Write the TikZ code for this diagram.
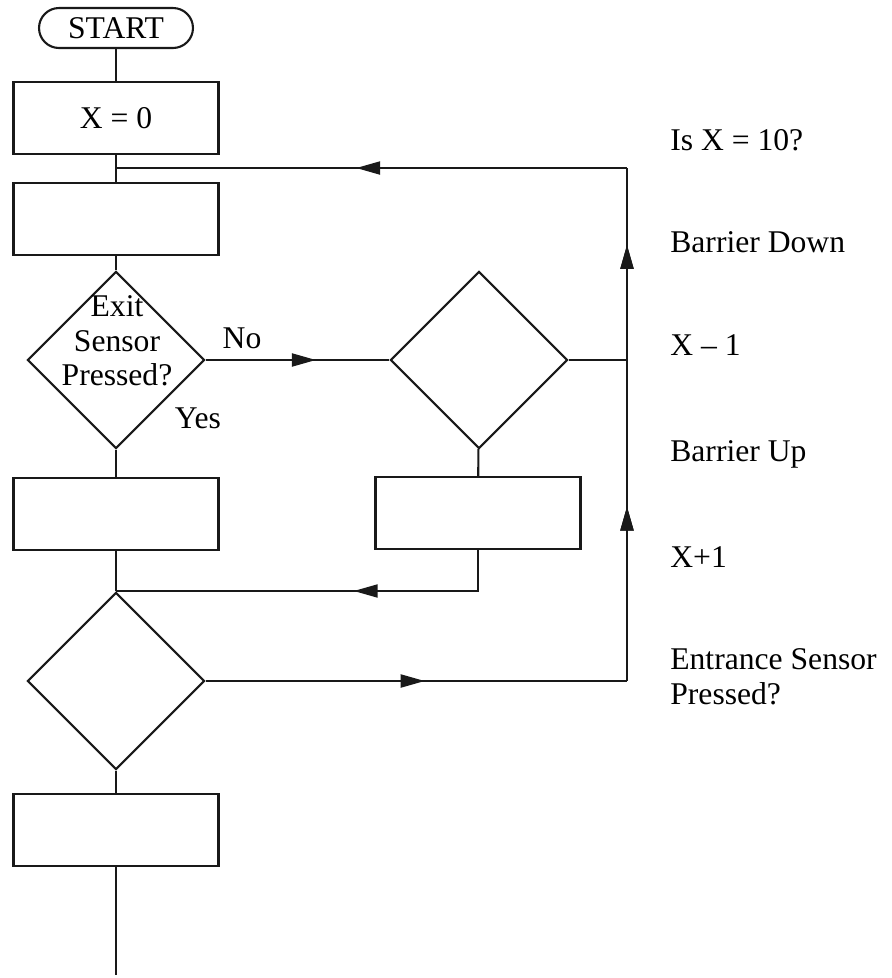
\documentclass[tikz,border=0pt]{standalone}
\usepackage{fontspec}
\setmainfont{Liberation Serif}
\usetikzlibrary{shapes.geometric, arrows.meta, positioning, decorations.markings}

\begin{document}
\begin{tikzpicture}[
        x=0.02cm, y=-0.02cm,
        font=\fontsize{18}{19.5}\selectfont,
        termBlock/.style={
            rectangle, rounded corners=0.4cm, draw=black!90, line width=1.2pt,
            minimum width=3.08cm, minimum height=0.8cm, inner sep=0pt
        },
        procBlock/.style={
            rectangle, draw=black!90, line width=1.2pt,
            minimum width=4.1cm, minimum height=1.44cm, inner sep=0pt
        },
        decBlock/.style={
            diamond, aspect=1, draw=black!90, line width=1.2pt,
            minimum size=3.54cm, inner sep=0pt
        },
        line/.style={draw=black!90, line width=1.2pt},
        midarrow/.style={
            postaction={decorate},
            decoration={markings,
                mark=at position #1 with {\arrow{Triangle[length=4.8mm, width=2.6mm]}}}
        },
        sideText/.style={anchor=base west, inner sep=0pt}
    ]
        \useasboundingbox (0,0) rectangle (892,978);

        % Nodes
        \node (start) [termBlock] at (116,28) {START};
        \node (setX) [procBlock] at (116,118) {X = 0};
        \node (box2) [procBlock] at (116,219) {};
        \node (exitDec) [decBlock] at (116,360) {};
        \node (exitTxt) [align=center, inner sep=0pt] at (117,341) {Exit\\Sensor\\Pressed?};
        \node (entDec) [decBlock] at (479,360) {};
        \node (box3) [procBlock] at (116,514) {};
        \node (box4) [procBlock] at (478,513) {};
        \node (cntDec) [decBlock] at (116,681) {};
        \node (box5) [procBlock] at (116,830) {};

        \node (noLbl) at (242,338) {No};
        \node (yesLbl) at (198,418) {Yes};

        % Junctions
        \coordinate (jTop) at (116,168);
        \coordinate (jLow) at (116,591);
        \coordinate (rTop) at (627,168);
        \coordinate (rMid) at (627,360);
        \coordinate (rBot) at (627,681);
        \coordinate (endPt) at (116,975);

        % Right-hand list of texts
        \node (t1) [sideText] at (670,150) {Is X = 10?};
        \node (t2) [sideText] at (670,252) {Barrier Down};
        \node (t3) [sideText] at (670,355) {X -- 1};
        \node (t4) [sideText] at (670,461) {Barrier Up};
        \node (t5) [sideText] at (670,567) {X+1};
        \node (t6) [sideText, align=left] at (670,704) {Entrance Sensor\\Pressed?};

        % Main column
        \draw [line] (start) -- (setX);
        \draw [line] (setX) -- (box2);
        \draw [line] (box2) -- (exitDec);
        \draw [line] (exitDec) -- (box3);
        \draw [line] (box3) -- (cntDec);
        \draw [line] (cntDec) -- (box5);
        \draw [line] (box5) -- (endPt);

        % Branches
        \draw [line, midarrow=0.6] (exitDec.east) -- (entDec.west);
        \draw [line] (entDec.east) -- (rMid);
        \draw [line] (entDec) -- (box4);
        \draw [line, midarrow=0.41] (box4.south) |- (jLow);
        \draw [line, midarrow=0.52] (cntDec.east) -- (rBot);
        \draw [line, midarrow=0.34, midarrow=0.85] (rBot) -- (rTop);
        \draw [line, midarrow=0.53] (rTop) -- (jTop);
    \end{tikzpicture}
\end{document}
